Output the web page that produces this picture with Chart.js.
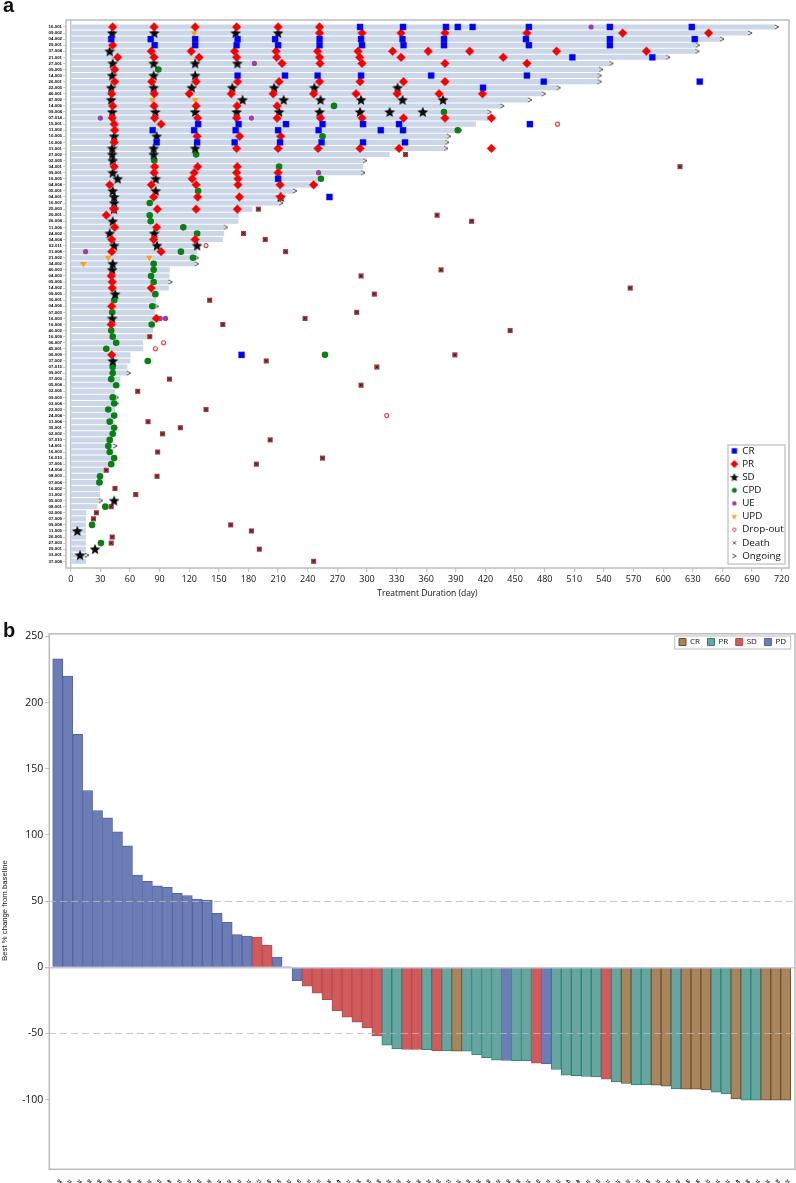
<!DOCTYPE html>
<html><head><meta charset="utf-8">
<style>
html,body{margin:0;padding:0;background:#fff;width:796px;height:1183px;overflow:hidden}
canvas{position:absolute;left:0}
.tag{position:absolute;left:3px;font:bold 20px/20px "Liberation Sans",Arial,sans-serif;color:#111}
</style>
<script src="https://cdn.jsdelivr.net/npm/chart.js@4/dist/chart.umd.js"></script>
</head><body>
<canvas id="a" width="796" height="600" style="top:0"></canvas>
<canvas id="b" width="796" height="583" style="top:600px"></canvas>
<div class="tag" style="top:-5px">a</div>
<div class="tag" style="top:620px">b</div>
<script>
// ---------- Panel a: swimmer plot ----------
const patients = ["16-001","09-002","04-002","29-001","37-004","21-001","27-001","09-005","14-003","26-001","22-005","46-001","47-002","14-006","09-004","07-014","15-001","11-002","10-005","10-006","31-001","27-002","02-005","34-001","09-001","16-005","04-004","05-001","04-001","16-007","25-003","20-001","26-004","11-006","24-002","34-004","02-011","31-008","21-002","34-002","40-003","04-003","05-006","14-002","09-005","30-001","04-006","07-003","16-003","16-006","40-002","16-009","06-007","45-001","06-009","37-002","07-015","09-007","37-003","05-004","02-006","09-003","03-004","22-003","24-004","31-004","35-001","02-002","07-010","14-001","16-003","16-010","37-006","14-004","08-003","07-004","16-002","31-002","05-003","08-001","02-006","07-009","09-008","11-005","26-005","27-003","29-001","33-001","37-008"];
const durations = [713,686,657.6,633,632.5,603,545.5,535,533.6,533.6,492,477,463,435,422,422,410,392,381,379,378,322.7,296,295.7,294,254,243.6,225,211.6,211,183.6,170,169.4,155,155,153.8,129,127.6,125.6,125.6,100,99.6,99,99,86.4,86,85,85,84,83,83,77,73,73,60,60,57,57,50,49,44.5,44,44,44.5,44,44,44,43,43,42,43,43,42,35.7,30,29.5,29.5,29.5,29,26.6,15.5,15,15,15,15,15,15,15,15];
// Each entry: [row, day, day, ...]
const crMarks = [[0,293,336.5,380,392,407,464,546,629],[2,41,81,126,169,207,252,294,336,378,461,546,632],[3,85,126,168,210,252,295,337,378,464,546],[5,508,589],[8,169,217,250,294,365,462],[9,479,637],[10,417.5],[16,129,170,218,255,296,332.5,465],[17,83,125,167,210,251,314,336.5],[19,87,128,166,212,254,296,338.5],[25,210],[28,262],[54,173]];
const prMarks = [[0,42.5,84.4,126,168,210,252],[1,252,295,334.5,379,462,559,646],[3,42.5],[4,81.6,122,166,208,250,291,326,362,404,492,583],[5,47.5,84.4,130,168,208.6,252,292.6,334.5,438],[6,214,252.5,295,379,462],[7,44.5],[9,44.5,82,127,169,211,252,293,337,379],[11,41.5,84.6,120,162.6,205,246,289,330.6,373,417],[13,42.5,84.4,127,168.4,209],[15,42,85,128.5,168,209,253,295,337,379,426],[16,44,91.5],[17,44.5],[18,128,171,212.6],[19,44],[20,168,210,250.5,293,332.5,426],[23,44,85,128.5,168.7],[24,84.4,125,168,210],[25,123,169.4],[26,39.5,81.6,127,169.4,212,246],[28,84,128.5,170.8,212.6],[30,43.8,87.7,127,168.7],[31,36],[33,44.5,87],[35,41.5,84,126],[37,41.5,91.5],[41,41],[42,42],[43,42,81.6],[46,41.5],[48,86.7],[49,41],[54,41.5]];
const sdMarks = [[1,42,84.6,167,210],[4,39.5],[6,42.5,84,126,168.7],[8,42,84,126],[10,41,84,122.5,163.6,206,246.7,331],[12,41,174,215.6,253,294,336,377],[14,42,85.7,126,168,211,252,293,323,356.5],[18,44,87],[20,42,84,126],[21,42,84],[22,42.5],[24,42.5],[25,47.5,86],[27,42.5,86],[28,44,212.6],[29,44],[30,43.8],[32,42.5],[34,39.5,84.6],[36,44,87.3,128],[39,42.5],[40,42],[44,45],[48,42],[55,42.5],[78,44],[83,6.7],[86,24.6],[87,9.4]];
const cpdMarks = [[7,88.7],[13,266.6],[14,378],[17,392],[18,255],[21,127],[22,84.6],[23,211],[25,253.4],[27,129],[29,80],[31,80],[32,81],[33,114],[34,128],[37,111.6],[38,123.8],[39,84],[40,84],[41,81.3],[42,84],[44,85.7],[45,44],[46,82.6],[47,42],[49,82],[50,41],[51,42.5],[52,46],[53,36],[54,257.5],[55,78],[56,42.5],[57,42.5],[58,41],[59,46],[61,42.5],[62,44],[63,38],[64,44],[65,39.5],[66,44],[67,42.5],[68,39.5],[69,38],[70,39.5],[71,44],[72,41],[74,29.7],[75,29],[79,35],[82,21.6],[85,30.6]];
const ueMarks = [[0,527],[6,186],[15,30,183],[24,251],[37,15],[48,90.7,96]];
const updMarks = [[1,125],[12,82.6,126],[38,38,79.6],[39,12.8]];
const dropMarks = [[16,493],[36,137],[52,94],[53,85.7],[64,320]];
const deathMarks = [[21,339],[23,617],[30,190],[31,371],[32,406],[34,175],[35,197],[37,217.6],[40,375],[41,294],[43,566.6],[44,307.5],[45,140.7],[47,289.6],[48,237.3],[49,154],[50,445],[51,80],[54,389],[55,198],[56,310],[58,100],[59,294],[60,67.8],[63,137],[65,78.3],[66,111],[67,93],[68,202],[70,88],[71,255],[72,188],[73,36],[74,87.4],[76,44.8],[77,65.8],[79,41],[80,26],[81,23],[82,162],[83,183],[84,42],[85,41],[86,191],[88,246]];
const ongoingMarks = [[0,715],[1,688],[2,659.6],[3,635],[4,634.5],[5,605],[6,547.5],[7,537],[8,535.6],[9,535.6],[10,494],[11,479],[12,465],[13,437],[14,424],[15,424],[17,394],[18,383],[19,381],[20,380],[22,298],[24,296],[26,245.6],[27,227],[28,213.6],[29,213],[33,157],[38,127.6],[39,127.6],[42,101],[46,87],[57,58.7],[61,46.5],[62,46.5],[69,45],[75,30.5],[78,30.5],[87,16.5]];

// ---------- Panel b: waterfall ----------
const waterfallIds = ["09-004","16-005","14-006","05-006","04-003","09-003","14-002","04-006","30-001","16-006","07-003","40-003","37-003","31-004","02-002","35-001","14-001","24-004","37-006","16-010","27-002","09-005","05-004","22-003","07-010","31-008","21-002","34-002","45-001","11-006","06-007","07-015","09-007","26-004","20-001","16-007","34-004","24-002","02-011","27-001","14-003","05-001","34-001","04-004","25-003","04-001","09-001","10-005","02-005","31-001","22-005","47-002","46-001","15-001","07-014","11-002","10-006","26-001","21-001","09-002","37-004","16-001","29-001","04-002","06-009","37-002","16-003","16-009","40-002","08-003","16-002","14-004","07-004","31-002"];
const bestChange = [233,220,176,133.6,118.5,113,102.4,91.8,69.7,65,61.6,60.4,55.9,54.3,51.6,50.6,40.8,34,24.7,23.6,22.9,16.6,7.8,0.5,-10,-14.3,-19.6,-24.4,-33,-37.7,-41.5,-45.8,-51.8,-58.9,-61.6,-62.1,-62.1,-62.3,-63,-63.1,-63.4,-63.4,-66.2,-68.2,-70.2,-70.4,-70.7,-70.7,-72.5,-73,-77.2,-81.5,-81.8,-82.5,-82.8,-84.5,-86.5,-87.8,-88.8,-88.8,-89,-89.8,-91.8,-92,-92,-92.6,-94.3,-95.6,-99.4,-100.4,-100.4,-100.4,-100.4,-100.4];
const bestResponse = ["PD","PD","PD","PD","PD","PD","PD","PD","PD","PD","PD","PD","PD","PD","PD","PD","PD","PD","PD","PD","SD","SD","PD","PD","PD","SD","SD","SD","SD","SD","SD","SD","SD","PR","PR","SD","SD","PR","SD","PR","CR","PR","PR","PR","PR","PD","PR","PR","SD","PD","PR","PR","PR","PR","PR","SD","PR","CR","PR","PR","CR","CR","PR","CR","CR","CR","PR","PR","CR","PR","PR","CR","CR","CR"];
const responseKeys = ["CR","PR","SD","PD"];
const responseFill = {CR:"#a8855c",PR:"#67a5a0",SD:"#d05a5c",PD:"#6c7db6"};
const responseEdge = {CR:"#6f4f2a",PR:"#2b8478",SD:"#b94a4c",PD:"#5264a8"};

// ---------- helpers ----------
const GRAY = "#bcbcbc";
const FONT = '"Open Sans",sans-serif';
function expand(list){const out=[];list.forEach(r=>r.slice(1).forEach(x=>out.push({x,y:r[0]})));return out;}
function starImage(R,color){
  const c=document.createElement("canvas");c.width=c.height=Math.ceil(2*R+2);
  const g=c.getContext("2d"),m=c.width/2;g.fillStyle=color;g.beginPath();
  for(let i=0;i<10;i++){const r=i%2?R*0.45:R,t=-Math.PI/2+i*Math.PI/5;g.lineTo(m+r*Math.cos(t),m+r*Math.sin(t)+0.4);}
  g.closePath();g.fill();return c;
}
function chevronImage(color){
  const c=document.createElement("canvas");c.width=6;c.height=6;
  const g=c.getContext("2d");g.strokeStyle=color;g.lineWidth=0.9;g.beginPath();
  g.moveTo(1,1);g.lineTo(5,3);g.lineTo(1,5);g.stroke();return c;
}
function icon(pointStyle,radius,fill,stroke,borderWidth){
  const c=document.createElement("canvas");c.width=c.height=14;
  const g=c.getContext("2d");g.fillStyle=fill;g.strokeStyle=stroke;g.lineWidth=borderWidth;
  Chart.helpers.drawPoint(g,{pointStyle,radius,rotation:0,borderWidth},7,7);return c;
}
const legendIcons = {
  CR:icon("rect",3.8,"#0000f0","#0000f0",0),
  PR:icon("rectRot",3.9,"#f40000","#f40000",0),
  SD:starImage(4.6,"#111"),
  CPD:icon("circle",2.5,"#0a7f14","#0a7f14",0),
  UE:icon("circle",2.3,"#9c3ea6","#9c3ea6",0),
  UPD:icon("triangle",3.2,"#ffa011","#ffa011",0), // the legend applies the dataset's 180° rotation
  "Drop-out":icon("circle",1.7,"#fff","#f23a3a",1),
  Death:icon("crossRot",2.2,"#333","#333",0.9),
  Ongoing:chevronImage("#444")
};
const baseLabels = Chart.defaults.plugins.legend.labels.generateLabels;
const framePlugin={id:"frame",
  afterLayout(chart,_a,o){if(o.legend){Object.assign(chart.legend,o.legend);}},
  afterDatasetsDraw(chart,_a,o){
    const g=chart.ctx,A=chart.chartArea;g.save();g.strokeStyle=GRAY;g.lineWidth=o.width;
    g.strokeRect(A.left,A.top,A.right-A.left,A.bottom-A.top);
    if(o.box){g.lineWidth=o.boxWidth;g.strokeRect(o.box[0],o.box[1],o.box[2],o.box[3]);}
    g.restore();}
};
function scatterSet(label,list,style,order){
  return Object.assign({type:"scatter",label,data:expand(list),order,pointBorderWidth:0,borderWidth:0,showLine:false},style);
}
// ---------- chart a ----------
new Chart(document.getElementById("a"),{
  type:"scatter",
  data:{datasets:[
    scatterSet("CR",crMarks,{pointStyle:"rect",pointRadius:4.4,backgroundColor:"#0000f0",borderColor:"rgba(80,80,255,.3)",pointBorderWidth:1,borderWidth:1},1),
    scatterSet("PR",prMarks,{pointStyle:"rectRot",pointRadius:4.4,backgroundColor:"#f40000",borderColor:"rgba(255,60,60,.6)",pointBorderWidth:1,borderWidth:1},2),
    scatterSet("SD",sdMarks,{pointStyle:starImage(5.6,"#0c0c0c"),backgroundColor:"#111",borderColor:"#111"},3),
    scatterSet("CPD",cpdMarks,{pointStyle:"circle",pointRadius:3.3,backgroundColor:"#0a7f14",borderColor:"#0a7f14"},4),
    scatterSet("UE",ueMarks,{pointStyle:"circle",pointRadius:2.6,backgroundColor:"#9c3ea6",borderColor:"#9c3ea6"},5),
    scatterSet("UPD",updMarks,{pointStyle:"triangle",rotation:180,pointRadius:3.8,backgroundColor:"#ffa011",borderColor:"#ffa011"},6),
    scatterSet("Drop-out",dropMarks,{pointStyle:"circle",pointRadius:2,backgroundColor:"#fff",borderColor:"#f23a3a",pointBorderWidth:1.1,borderWidth:1.1},7),
    scatterSet("Death",deathMarks,{pointStyle:"crossRot",pointRadius:1.8,backgroundColor:"#222",borderColor:"#222",pointBorderWidth:0.9,borderWidth:0.9},8),
    scatterSet("Ongoing",ongoingMarks,{pointStyle:chevronImage("#333"),backgroundColor:"#444",borderColor:"#444"},9),
    scatterSet("Death box",deathMarks,{pointStyle:"rect",pointRadius:3.6,backgroundColor:"#a83a40",borderColor:"#a83a40"},10),
    {type:"bar",label:"Duration",indexAxis:"y",order:100,barThickness:4.4,backgroundColor:"#cbd6e8",borderWidth:0,
     data:durations.map((x,y)=>({x,y}))}
  ]},
  options:{
    responsive:false,animation:false,events:[],devicePixelRatio:1,
    layout:{autoPadding:false,padding:{top:20,right:7,left:0,bottom:0}},
    scales:{
      x:{type:"linear",offset:false,min:-4.8,max:727.4,
        grid:{offset:false,color:c=>c.tick&&c.tick.value===0?"#c6c6c6":"rgba(0,0,0,0)",lineWidth:1.4,tickColor:GRAY,tickLength:4,tickWidth:1},
        border:{display:false},
        ticks:{stepSize:30,includeBounds:false,autoSkip:false,maxRotation:0,minRotation:0,padding:2,color:"#111",font:{family:FONT,size:9}},
        title:{display:true,text:"Treatment Duration (day)",color:"#111",font:{family:FONT,size:8.5},padding:{top:0,bottom:1}},
        afterFit(s){s.height=32;}},
      y:{type:"linear",offset:false,reverse:true,min:-1.15,max:89.1,
        grid:{offset:false,drawOnChartArea:false,tickColor:GRAY,tickLength:3,tickWidth:0.8},
        border:{display:false},
        ticks:{stepSize:1,includeBounds:false,autoSkip:false,padding:1,color:"#000",font:{family:'"Liberation Sans",sans-serif',size:4.3,weight:"bold"},
          callback:v=>patients[v]},
        afterFit(s){s.width=66;}}
    },
    plugins:{
      tooltip:{enabled:false},
      legend:{display:true,position:"chartArea",align:"start",
        labels:{usePointStyle:true,boxWidth:6,boxHeight:6,padding:3.33,color:"#111",font:{family:FONT,size:9.8},
          generateLabels:ch=>baseLabels(ch).map(it=>{if(legendIcons[it.text])it.pointStyle=legendIcons[it.text];return it;}),
          filter:i=>i.text!=="Duration"&&i.text!=="Death box"}},
      frame:{width:1.5,boxWidth:1.2,box:[728,445,57,119],legend:{left:728,top:442.67,right:790,bottom:566}}
    }
  },
  plugins:[framePlugin]
});
// ---------- chart b ----------
function patchB(s,shift){
  if(!s._patched){
    s._patched=true;
    if(shift){const orig=s.drawTitle;s.drawTitle=function(){const g=this.ctx;g.save();g.translate(0,shift);orig.apply(this,arguments);g.restore();};}
    else{s._getXAxisLabelAlignment=()=>"left";}
  }
}
new Chart(document.getElementById("b"),{
  type:"bar",
  data:{datasets:responseKeys.map(k=>({
    label:k,backgroundColor:responseFill[k],borderColor:responseEdge[k],borderWidth:1,
    barPercentage:1,categoryPercentage:1,grouped:false,
    data:bestChange.map((y,x)=>({x,y})).filter(p=>bestResponse[p.x]===k)
  }))},
  options:{
    responsive:false,animation:false,events:[],devicePixelRatio:1,
    layout:{autoPadding:false,padding:{top:8.3,right:1,left:0,bottom:0}},
    scales:{
      x:{type:"linear",offset:false,min:-0.841,max:73.93,
        grid:{display:false,offset:false},border:{display:false},
        ticks:{stepSize:1,includeBounds:false,autoSkip:false,minRotation:-45,maxRotation:-45,padding:1,color:"#000",
          font:{family:'"Liberation Sans",sans-serif',size:4.2,weight:"bold"},callback:v=>waterfallIds[v]},
        afterFit(s){s.height=13.7;patchB(s,0);}},
      y:{type:"linear",min:-152.6,max:252,
        grid:{z:1,lineWidth:c=>c.tick&&c.tick.value===0?1.4:1,
          color:c=>{if(!c.tick)return"rgba(0,0,0,0)";const v=c.tick.value;return v===0?"#c5c6d2":Math.abs(v)===50?"rgba(185,185,185,.8)":"rgba(0,0,0,0)";},
          tickColor:c=>c.tick&&c.tick.value===-150?"rgba(0,0,0,0)":GRAY,tickLength:4},
        border:{display:false,dash:c=>c.tick&&Math.abs(c.tick.value)===50?[7,4]:[]},
        ticks:{stepSize:50,includeBounds:false,autoSkip:false,padding:2,color:"#111",font:{family:FONT,size:10.5},
          callback:v=>v===-150?"":String(v)},
        title:{display:true,text:"Best % change from baseline",color:"#111",font:{family:'"Liberation Sans",sans-serif',size:7.75},padding:0},
        afterFit(s){s.width=49.3;patchB(s,9);}}
    },
    plugins:{
      tooltip:{enabled:false},
      legend:{display:true,position:"top",align:"start",
        labels:{boxWidth:7,boxHeight:7,padding:7.5,color:"#111",font:{family:FONT,size:8}}},
      frame:{width:1.5,boxWidth:1,box:[674.7,36,116,13],legend:{left:671.5,top:30.5,right:796,bottom:56}}
    }
  },
  plugins:[framePlugin]
});
</script>
</body></html>
